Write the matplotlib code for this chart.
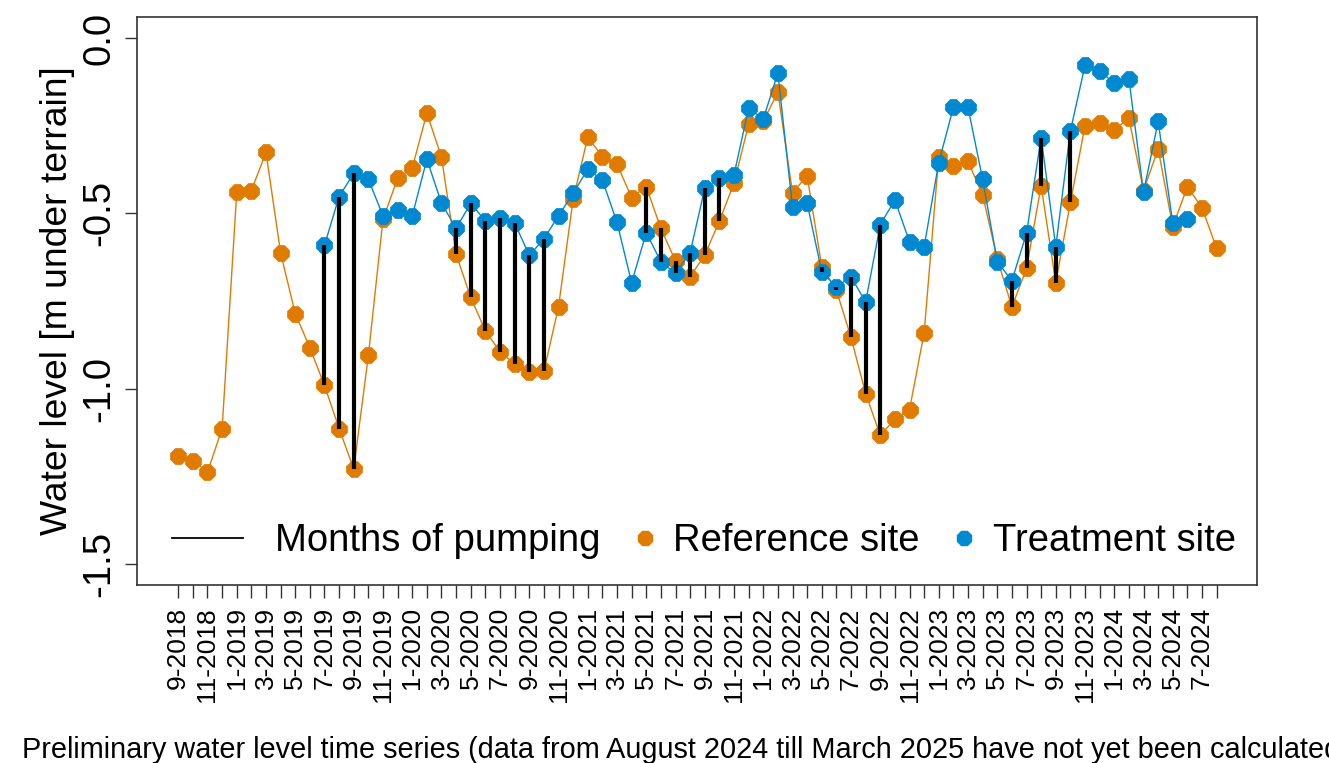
import numpy as np
import matplotlib
matplotlib.use("Agg")
import matplotlib.pyplot as plt
from matplotlib.lines import Line2D
from matplotlib.legend_handler import HandlerLine2D

plt.rcParams['font.family'] = ['Liberation Sans', 'DejaVu Sans']

# ---- data -------------------------------------------------------------
months = [f"{m}-{y}" for y in range(2018, 2025) for m in range(1, 13)][8:80]  # 9-2018 .. 8-2024

reference = [
    -1.193, -1.205, -1.238, -1.114, -0.440, -0.435, -0.326, -0.613, -0.786, -0.883,
    -0.991, -1.114, -1.229, -0.905, -0.517, -0.400, -0.371, -0.214, -0.340, -0.617,
    -0.740, -0.835, -0.895, -0.930, -0.952, -0.951, -0.767, -0.460, -0.283, -0.338,
    -0.360, -0.455, -0.424, -0.543, -0.636, -0.681, -0.619, -0.522, -0.414, -0.246,
    -0.238, -0.154, -0.441, -0.393, -0.652, -0.719, -0.854, -1.014, -1.133, -1.087,
    -1.060, -0.841, -0.338, -0.365, -0.352, -0.448, -0.629, -0.767, -0.657, -0.421,
    -0.698, -0.469, -0.251, -0.243, -0.262, -0.229, -0.435, -0.316, -0.538, -0.424,
    -0.484, -0.600,
]

nan = np.nan
treatment = [
    nan, nan, nan, nan, nan, nan, nan, nan, nan, nan,
    -0.591, -0.452, -0.386, -0.403, -0.507, -0.490, -0.507, -0.346, -0.471, -0.543,
    -0.471, -0.522, -0.514, -0.527, -0.620, -0.573, -0.507, -0.443, -0.374, -0.405,
    -0.526, -0.698, -0.555, -0.638, -0.671, -0.612, -0.429, -0.400, -0.390, -0.200,
    -0.231, -0.100, -0.483, -0.471, -0.667, -0.710, -0.681, -0.753, -0.532, -0.462,
    -0.581, -0.595, -0.355, -0.198, -0.198, -0.403, -0.638, -0.692, -0.557, -0.284,
    -0.595, -0.265, -0.078, -0.093, -0.129, -0.116, -0.440, -0.238, -0.527, -0.517,
    nan, nan,
]

pumping_months = [
    "7-2019", "8-2019", "9-2019",
    "4-2020", "5-2020", "6-2020", "7-2020", "8-2020", "9-2020", "10-2020",
    "5-2021", "6-2021", "7-2021", "8-2021", "9-2021", "10-2021",
    "5-2022", "6-2022", "7-2022", "8-2022", "9-2022",
    "6-2023", "7-2023", "8-2023", "9-2023", "10-2023",
]

y_ticks = [-1.5, -1.0, -0.5, 0.0]
y_tick_labels = ["-1.5", "-1.0", "-0.5", "0.0"]

ORANGE = "#E07B00"
BLUE = "#0089D1"

# ---- figure -----------------------------------------------------------
W, H = 1329, 763
fig = plt.figure(figsize=(W / 100, H / 100), dpi=100)
ax = fig.add_axes([137 / W, 1 - 585 / H, 1120.3 / W, 568 / H])

x = np.arange(len(months))
ref = np.array(reference)
trt = np.array(treatment)
pump = np.array([m in pumping_months for m in months])

ax.plot(x, ref, color=ORANGE, lw=1.0, marker='8', ms=12, mec=ORANGE, mew=0.5, zorder=2)
ax.plot(x, trt, color=BLUE, lw=1.0, marker='8', ms=12, mec=BLUE, mew=0.5, zorder=3)
ax.vlines(x[pump], ref[pump], trt[pump], color='black', lw=3.0, zorder=4)

ax.set_xlim(-2.82, len(months) - 1 + 2.78)
ax.set_ylim(-1.56, 0.06)

ax.set_xticks(x)
ax.set_xticklabels([m if i % 2 == 0 else "" for i, m in enumerate(months)],
                   rotation=90, fontsize=19)
ax.set_yticks(y_ticks)
ax.set_yticklabels(y_tick_labels, rotation=90, va='center', fontsize=27.5)
ax.tick_params(axis='x', length=9, width=1.0, pad=7, color='#333333')
ax.tick_params(axis='y', length=9, width=1.0, pad=5, color='#333333')

for s in ax.spines.values():
    s.set_color('#333333')
    s.set_linewidth(1.2)

ax.set_ylabel("Water level [m under terrain]", fontsize=26.8)
ax.yaxis.set_label_coords(-0.0555, 0.5)


class RightMarkerHandler(HandlerLine2D):
    def get_xdata(self, legend, xdescent, ydescent, width, height, fontsize):
        xr = -xdescent + width + 0.1 * fontsize
        return [xr, xr], [xr]


h_line = Line2D([], [], color='black', lw=1.3)
h_ref = Line2D([], [], color=ORANGE, ls='none', marker='8', ms=10.5, mec=ORANGE)
h_trt = Line2D([], [], color=BLUE, ls='none', marker='8', ms=10.5, mec=BLUE)
leg = ax.legend([h_line, h_ref, h_trt],
                ["Months of pumping", "Reference site", "Treatment site"],
                handler_map={h_ref: RightMarkerHandler(), h_trt: RightMarkerHandler()},
                loc='center', bbox_to_anchor=(0.506, 0.0775), ncol=3, frameon=False,
                fontsize=27.5, handlelength=1.85, handletextpad=0.85,
                columnspacing=-0.8, borderaxespad=0, borderpad=0)

fig.text(22 / W, 1 - 758 / H,
         "Preliminary water level time series (data from August 2024 till March 2025 have not yet been calculated)",
         ha='left', va='baseline', fontsize=20.8)

fig.savefig("out.png", dpi=100)
